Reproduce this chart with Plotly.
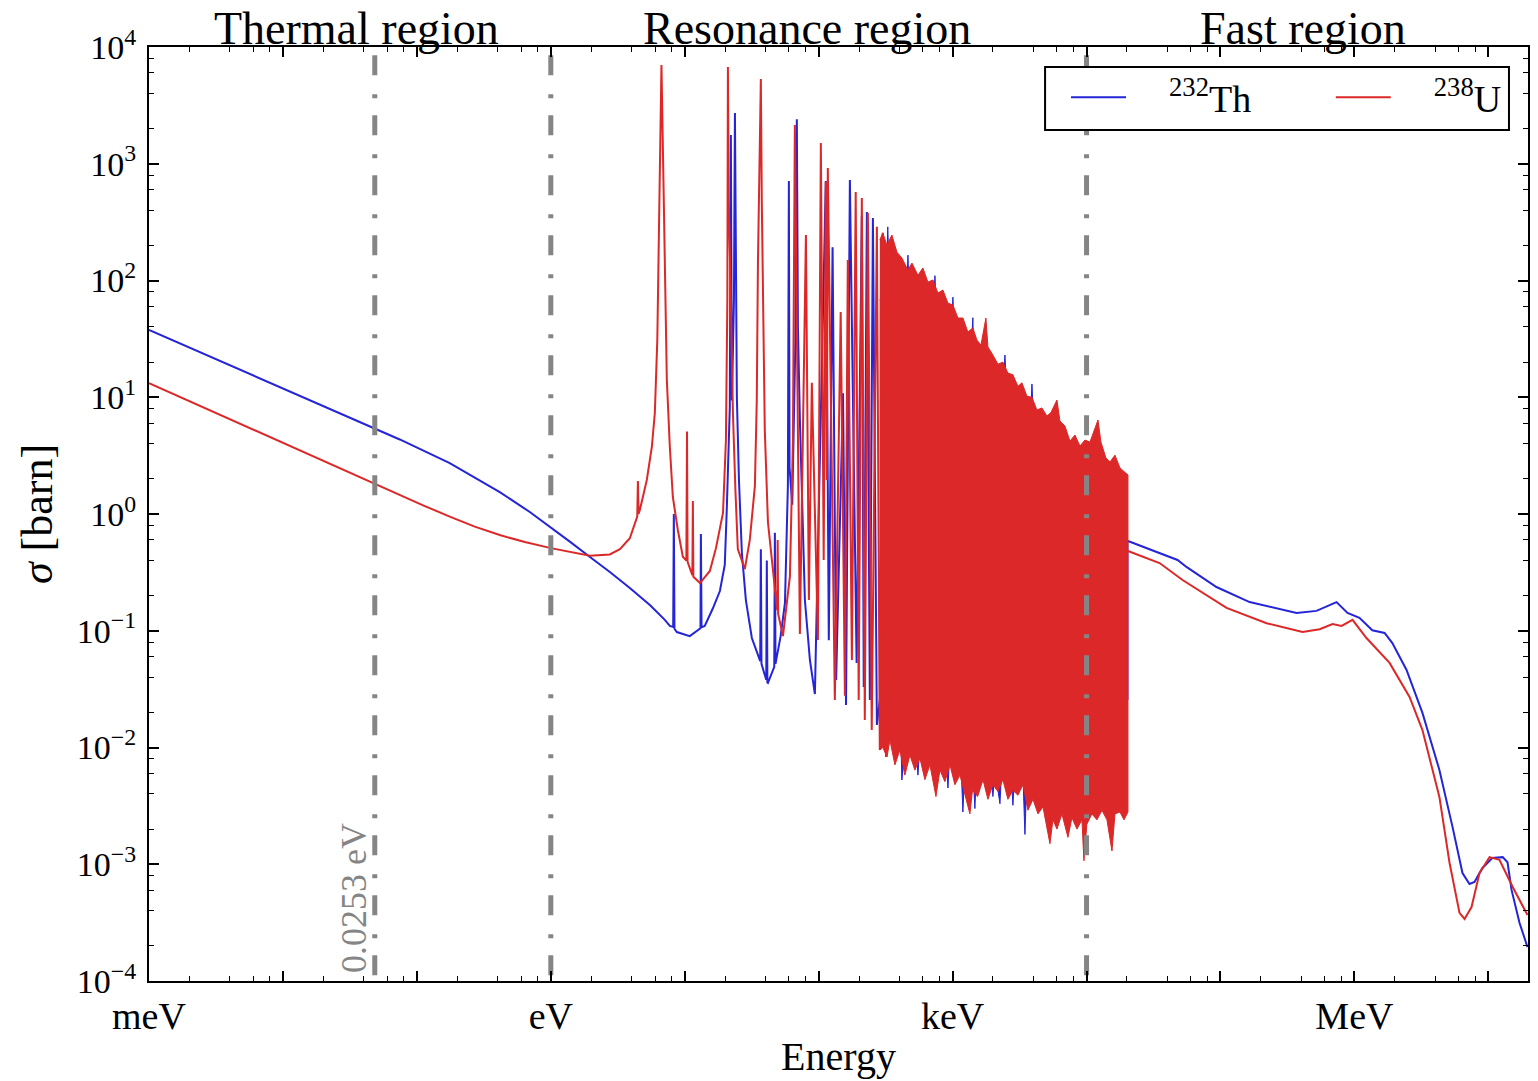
import numpy as np
import plotly.graph_objects as go

# ---- 232Th capture cross section (blue) ----
# thermal + isolated resonances + first resolved spikes
th_e = [1e-3, 0.0485, 0.0745, 0.176, 0.416, 0.697, 1.0, 1.387, 1.96, 2.76, 3.89, 5.49,
        7.1, 7.74, 8.2, 8.29, 8.38, 8.73, 10.9, 12.5, 13.1, 13.2, 13.35, 14.1, 16.2,
        18.3, 19.9, 20.6, 21.7, 22.1, 22.5, 23.3, 23.7, 24.5, 25.4, 26.7, 28.6, 31.7,
        36.6, 37.0, 37.4, 40.6, 41.0, 41.4, 41.8, 46.6, 47.1, 47.6, 52.0, 56.0, 58.9,
        59.9, 60.6, 63.5, 67.0, 68.7, 70.0, 72.4, 78.9, 86, 93.7, 113, 119, 127, 135,
        152, 160, 171, 192, 210, 217, 229, 241, 254, 272, 286]
th_sigma = [37.7, 5.45, 4.35, 2.73, 1.54, 1.04, 0.77, 0.58, 0.428, 0.319, 0.232, 0.166,
            0.124, 0.110, 0.108, 1.0, 0.104, 0.0975, 0.090, 0.101, 0.105, 0.674, 0.107,
            0.110, 0.155, 0.219, 0.366, 1.10, 8.25, 1760, 9.4, 68, 2720, 10, 1.95, 0.463,
            0.183, 0.0867, 0.055, 0.50, 0.052, 0.038, 0.40, 0.036, 0.0357, 0.049, 0.69,
            0.052, 0.09, 0.173, 1.74, 711, 2.5, 1.2, 30, 2410, 40, 6.4, 0.183, 0.0562,
            0.0287, 712, 0.083, 193, 0.0379, 10.8, 0.0231, 726, 0.053, 357, 0.033, 386,
            0.0255, 343, 0.0156, 0.0255]

# unresolved forest: upper and lower envelopes
th_top_e = [286, 318, 328, 340, 448, 464, 480, 713, 738, 764, 971, 1005, 1040, 1346, 1417,
            1442, 2374, 2459, 2545, 3779, 3911, 4047, 7516, 20380]
th_top_sigma = [68, 83, 288, 68, 46, 165, 46, 37.7, 110, 37.7, 25.4, 72, 25.4, 17.1, 48,
                17.1, 9.47, 23.0, 9.47, 5.24, 13.0, 5.24, 1.96, 0.587]
th_bot_e = [286, 301, 318, 411, 418, 440, 532, 551, 570, 600, 621, 892, 923, 955, 1153,
            1193, 1236, 1407, 1467, 1518, 1932, 1999, 2070, 2256, 2335, 2725, 2820, 2920,
            3349, 3467, 3588, 3779, 6330, 20380]
th_bot_sigma = [0.0172, 0.0104, 0.0172, 0.0116, 0.00527, 0.0106, 0.0106, 0.0058, 0.0106,
                0.0074, 0.0106, 0.0095, 0.0045, 0.0095, 0.0078, 0.0028, 0.0071, 0.0078,
                0.0030, 0.0078, 0.0064, 0.0038, 0.0064, 0.0033, 0.0071, 0.0064, 0.0032,
                0.0064, 0.0058, 0.0018, 0.0058, 0.0064, 0.0078, 0.0255]

th_fast_e = [20380, 47800, 55700, 93300, 165000, 370000, 521000, 735000, 888000, 1.09e6,
             1.36e6, 1.68e6, 1.92e6, 2.45e6, 3.22e6, 4.31e6, 5.40e6, 6.41e6, 7.23e6,
             7.88e6, 9.04e6, 1.07e7, 1.28e7, 1.39e7, 1.49e7, 1.71e7, 1.96e7]
th_fast_sigma = [0.587, 0.404, 0.352, 0.237, 0.176, 0.142, 0.148, 0.176, 0.142, 0.129,
                 0.101, 0.0957, 0.0785, 0.0461, 0.0198, 0.00642, 0.00209, 8.41e-4,
                 6.78e-4, 7.05e-4, 9.29e-4, 1.13e-3, 1.15e-3, 1.04e-3, 6.03e-4, 3.14e-4,
                 1.95e-4]

# ---- 238U capture cross section (red) ----
u_e = [1e-3, 0.0485, 0.1146, 0.176, 0.2706, 0.416, 0.64, 1.0, 1.387, 1.96, 2.76, 3.28,
       3.89, 4.31, 4.42, 4.47, 4.52, 4.62, 5.21, 5.68, 5.98, 6.24, 6.46, 6.7, 6.98, 7.16,
       7.35, 7.74, 8.15, 8.88, 9.68, 10.28, 10.4, 10.5, 11.4, 11.5, 11.6, 13.0, 15.4,
       17.1, 19.3, 20.3, 20.8, 21.0, 21.3, 21.7, 22.9, 23.9, 24.9, 28.1, 30.6, 33.4,
       34.5, 35.2, 37.0, 37.6, 38.3, 39.6, 41.8, 47.1, 49.0, 49.4, 49.8, 54.1, 61.0,
       64.2, 65.9, 66.4, 72.4, 80.3, 84.5, 88.9, 98.7, 103.8, 109, 113, 115, 117, 132,
       146, 157, 165, 177, 189, 199, 210, 221, 233, 249, 272, 286, 301, 318]
u_sigma = [13.2, 1.8, 1.17, 0.95, 0.78, 0.66, 0.575, 0.51, 0.475, 0.44, 0.45, 0.50,
           0.62, 0.85, 0.95, 1.92, 1.0, 1.08, 1.96, 3.75, 7.33, 31, 490, 7000, 461, 68,
           14.1, 3.75, 1.40, 0.73, 0.43, 0.40, 5.1, 0.39, 0.30, 1.29, 0.29, 0.256, 0.325,
           0.51, 1.02, 4.3, 68, 6740, 489, 182, 7.33, 1.6, 0.50, 0.338, 0.6, 1.74, 9.5,
           141, 5320, 489, 58.1, 5.24, 0.85, 0.223, 0.15, 0.6, 0.14, 0.090, 0.294, 4.14,
           182, 2150, 0.094, 245, 0.183, 13.3, 0.0833, 1506, 0.404, 698, 1.96, 920,
           0.0255, 53.7, 0.0277, 150, 0.0562, 573, 0.0255, 509, 0.0172, 379, 0.0141, 288,
           0.0095, 256, 0.0083]

u_top_e = [286, 301, 323, 352, 384, 418, 464, 497, 551, 600, 654, 713, 777, 846, 923, 1005,
           1096, 1194, 1300, 1417, 1518, 1628, 1773, 1835, 1999, 2179, 2374, 2588, 2820,
           3073, 3293, 3588, 3911, 4262, 4644, 5061, 5422, 6010, 6330, 6898, 7516, 8192,
           8927, 9730, 10600, 11360, 12170, 12810, 13960, 14960, 16300, 17760, 19030,
           20380]
u_top_sigma = [222, 256, 201, 245, 175, 156, 123, 141, 111, 128, 97, 101, 78, 83, 64, 61.7,
               47.7, 47.7, 36.2, 39.2, 30.9, 28.0, 47.7, 27.0, 23.0, 19.2, 20.0, 16.1,
               15.6, 12.4, 13.3, 10.2, 10.0, 7.78, 8.1, 6.9, 7.4, 9.47, 6.25, 5.67, 4.21,
               4.75, 3.82, 4.30, 4.13, 5.24, 6.38, 4.13, 3.02, 2.79, 3.19, 2.48, 2.29, 2.16]
u_bot_e = [286, 301, 324, 340, 371, 404, 440, 480, 523, 570, 621, 677, 751, 804, 876, 955,
           1040, 1134, 1257, 1346, 1407, 1537, 1686, 1835, 1999, 2179, 2374, 2588, 2820,
           3073, 3349, 3651, 3980, 4338, 4727, 5330, 5610, 6014, 6548, 7262, 7780, 8480,
           9240, 9560, 10050, 10960, 11960, 13030, 14200, 15480, 16300, 17760, 19030, 20380]
u_bot_sigma = [0.0095, 0.0100, 0.0083, 0.0116, 0.0071, 0.0095, 0.0058, 0.0086, 0.0064,
               0.0081, 0.0053, 0.0071, 0.0038, 0.0064, 0.0051, 0.0071, 0.0048, 0.0058,
               0.0036, 0.0027, 0.0043, 0.0038, 0.0053, 0.0036, 0.0048, 0.0042, 0.0053,
               0.0036, 0.0043, 0.0039, 0.0048, 0.0029, 0.0036, 0.0027, 0.0031, 0.0015,
               0.0024, 0.0020, 0.0027, 0.0017, 0.0025, 0.0020, 0.0024, 0.00107, 0.0022,
               0.0027, 0.0024, 0.0029, 0.0024, 0.0013, 0.0027, 0.0028, 0.0024, 0.0028]

u_fast_e = [20380, 35100, 52100, 111000, 221000, 410000, 550000, 687000, 802000, 968000,
            1.23e6, 1.83e6, 2.58e6, 3.22e6, 4.31e6, 5.13e6, 6.09e6, 6.64e6, 7.49e6, 8.59e6,
            1.02e7, 1.21e7, 1.52e7, 1.96e7]
u_fast_sigma = [0.482, 0.380, 0.272, 0.157, 0.116, 0.0975, 0.103, 0.114, 0.110, 0.124,
                0.0867, 0.0530, 0.0271, 0.0141, 0.00377, 1.03e-3, 3.83e-4, 3.40e-4,
                4.30e-4, 8.41e-4, 1.15e-3, 1.09e-3, 6.39e-4, 3.67e-4]

# region markers and labels
region_line_e = [0.0485, 1.0, 1.0e4]
region_line_sigma = [1.12e-4, 9000]
thermal_label = "0.0253 eV"
region_names = ["Thermal region", "Resonance region", "Fast region"]
region_label_e = [0.0356, 81.6, 4.13e5]

x_major = [10.0 ** d for d in range(-3, 8)]
x_labels = ["meV", "", "", "eV", "", "", "keV", "", "", "MeV", ""]
y_major = [10.0 ** d for d in range(-4, 5)]
y_labels = ["10<sup>%d</sup>" % d if d >= 0 else "10<sup>\u2212%d</sup>" % -d
            for d in range(-4, 5)]
x_minor = [k * 10.0 ** d for d in range(-3, 8) for k in (2, 4, 6, 8)]
y_minor = [k * 10.0 ** d for d in range(-4, 4) for k in (2, 4, 6, 8)]

BLUE = "#2424d8"
RED = "#dc2828"
GRAY = "#858585"
FONT = "Liberation Serif"
PAD = "\u00a0" * 4

fig = go.Figure()


def add_isotope(name, legend, color, e, s, top_e, top_s, bot_e, bot_s, fast_e, fast_s):
    fig.add_trace(go.Scatter(x=e, y=s, mode="lines", name=PAD + name, legend=legend,
                             line=dict(color=color, width=2)))
    fig.add_trace(go.Scatter(x=top_e + bot_e[::-1], y=top_s + bot_s[::-1], mode="lines",
                             fill="toself", fillcolor=color, showlegend=False,
                             line=dict(color=color, width=1)))
    fig.add_trace(go.Scatter(x=fast_e, y=fast_s, mode="lines", showlegend=False,
                             line=dict(color=color, width=2)))


add_isotope("<sup>232</sup>Th", "legend", BLUE, th_e, th_sigma, th_top_e, th_top_sigma,
            th_bot_e, th_bot_sigma, th_fast_e, th_fast_sigma)
add_isotope("<sup>238</sup>U", "legend2", RED, u_e, u_sigma, u_top_e, u_top_sigma,
            u_bot_e, u_bot_sigma, u_fast_e, u_fast_sigma)

for e in region_line_e:
    fig.add_trace(go.Scatter(x=[e, e], y=region_line_sigma, mode="lines", showlegend=False,
                             hoverinfo="skip",
                             line=dict(color=GRAY, width=5, dash="20px,17px,4px,19px")))

for name, e in zip(region_names, region_label_e):
    fig.add_annotation(x=np.log10(e), xref="x", y=1, yref="paper", text=name,
                       showarrow=False, xanchor="center", yanchor="bottom", yshift=-9,
                       font=dict(size=46, color="black", family=FONT))

fig.add_annotation(x=np.log10(region_line_e[0]), xref="x",
                   y=np.log10(region_line_sigma[0]), yref="y", text=thermal_label,
                   textangle=-90, showarrow=False, xanchor="center", yanchor="bottom",
                   xshift=-21, font=dict(size=36, color=GRAY, family=FONT))

# legend frame
fig.add_shape(type="rect", xref="paper", yref="paper", x0=0.6498, x1=0.9862,
              y0=0.9111, y1=0.9786, line=dict(color="black", width=2),
              fillcolor="white", layer="above")

axis_common = dict(type="log", showline=True, linecolor="black", linewidth=2,
                   mirror="allticks", ticks="inside", ticklen=10, tickwidth=1.5,
                   tickcolor="black", showgrid=False, zeroline=False, tickmode="array",
                   automargin=False)
legend_common = dict(orientation="h", xanchor="left", y=0.9797, yanchor="top",
                     bgcolor="rgba(0,0,0,0)", borderwidth=0, itemwidth=55,
                     font=dict(size=38, family=FONT))

fig.update_layout(
    width=1530, height=1073,
    margin=dict(l=141, r=10, t=39, b=100),
    paper_bgcolor="white", plot_bgcolor="white",
    font=dict(family=FONT, color="black", size=30),
    legend=dict(legend_common, x=0.665),
    legend2=dict(legend_common, x=0.857),
    xaxis=dict(axis_common, range=[-3, 7.296], tickvals=x_major, ticktext=x_labels,
               tickfont=dict(size=38),
               minor=dict(ticks="inside", ticklen=5, tickwidth=1, tickcolor="black",
                          tickmode="array", tickvals=x_minor),
               title=dict(text="Energy", font=dict(size=40), standoff=6)),
    yaxis=dict(axis_common, range=[-4, 4], tickvals=y_major, ticktext=y_labels,
               tickfont=dict(size=34), ticklabelstandoff=4,
               minor=dict(ticks="inside", ticklen=5, tickwidth=1, tickcolor="black",
                          tickmode="array", tickvals=y_minor),
               title=dict(text="<i>\u03c3</i> [barn]", font=dict(size=44), standoff=10)),
)

fig.write_html("out.html")
